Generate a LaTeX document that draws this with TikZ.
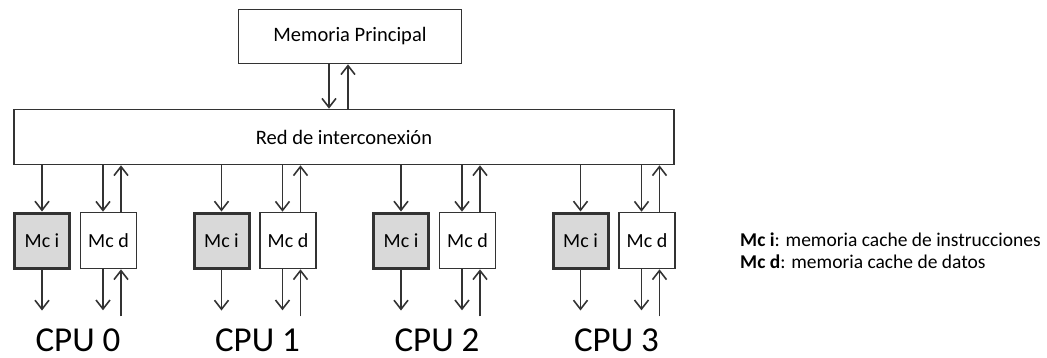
\documentclass[tikz,border=0pt]{standalone}
\usepackage{fontspec}
\setmainfont{Carlito}
\usetikzlibrary{arrows.meta,calc}
\begin{document}
\begin{tikzpicture}[x=1pt,y=-1pt,
  box/.style={draw=black!80, line width=1.6pt, inner sep=0pt, font=\fontsize{20}{24}\selectfont},
  bigbox/.style={box, font=\fontsize{20.5}{24}\selectfont},
  insbox/.style={box, line width=3pt, fill=black!15, minimum width=55pt, minimum height=55pt},
  datbox/.style={box, fill=white, minimum width=56pt, minimum height=56pt},
  arr/.style={draw=black!80, line width=1.6pt, -{Straight Barb[length=9pt,width=14pt]}},
  cpulabel/.style={font=\fontsize{35}{40}\selectfont, inner sep=0pt},
  legend/.style={font=\fontsize{19.5}{22}\selectfont, inner sep=0pt, anchor=west}]
\useasboundingbox (0,0) rectangle (1047,357);

% main memory and interconnection network
\node[bigbox, minimum width=223pt, minimum height=54pt] (mem) at (350,36.5) {Memoria Principal};
\node[bigbox, minimum width=660pt, minimum height=55pt] (red) at (344,137) {Red de interconexión};

\coordinate (mdown) at (mem.south -| 329,0);
\coordinate (mup) at (mem.south -| 348,0);
\draw[arr] (mdown) -- (red.north -| mdown);
\draw[arr] (red.north -| mup) -- (mup);

% four processors with instruction and data caches
\foreach \k in {0,...,3}{
  \pgfmathsetmacro{\ox}{179.5*\k}
  \node[insbox] (mci\k) at (42+\ox,240.5) {Mc i};
  \node[datbox] (mcd\k) at (108.5+\ox,240.5) {Mc d};
  \node[cpulabel] (cpu\k) at (78+\ox,340) {CPU \k};

  \coordinate (din\k) at ($(mcd\k.north)+(-5.5,0)$);
  \coordinate (dup\k) at ($(mcd\k.north)+(12.5,0)$);
  \coordinate (dbd\k) at ($(mcd\k.south)+(-5.5,0)$);
  \coordinate (dbu\k) at ($(mcd\k.south)+(12.5,0)$);
  \coordinate (iout\k) at ($(mci\k.south)+(0,41)$);
  \coordinate (dout\k) at ($(dbd\k)+(0,41)$);
  \coordinate (dret\k) at ($(dbu\k)+(0,47)$);

  \draw[arr] (red.south -| mci\k) -- (mci\k.north);
  \draw[arr] (red.south -| din\k) -- (din\k);
  \draw[arr] (dup\k) -- (red.south -| dup\k);
  \draw[arr] (mci\k.south) -- (iout\k);
  \draw[arr] (dbd\k) -- (dout\k);
  \draw[arr] (dret\k) -- (dbu\k);
}

% legend
\node[legend] (leg1) at (740,240) {\textbf{Mc i}: memoria cache de instrucciones};
\node[legend] (leg2) at (740,262) {\textbf{Mc d}: memoria cache de datos};
\end{tikzpicture}
\end{document}
